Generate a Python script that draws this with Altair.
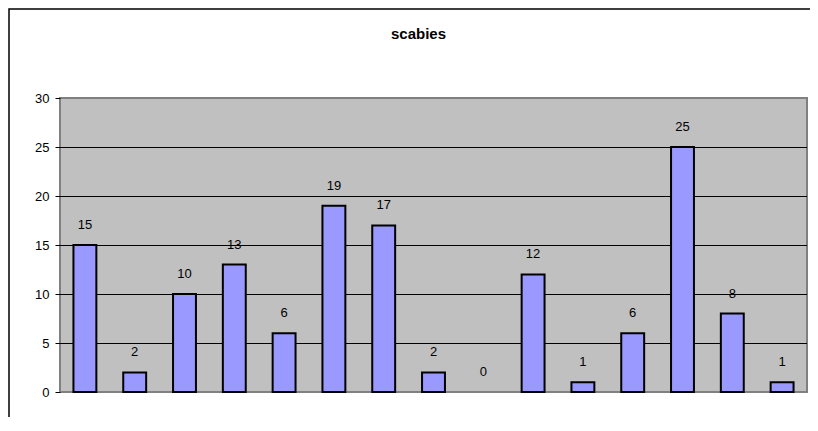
import altair as alt
import pandas as pd

categories = [str(i) for i in range(1, 16)]
values = [15, 2, 10, 13, 6, 19, 17, 2, 0, 12, 1, 6, 25, 8, 1]
y_ticks = [0, 5, 10, 15, 20, 25, 30]
grid_values = [5, 10, 15, 20, 25]

df = pd.DataFrame({"cat": categories, "value": values})
grid_df = pd.DataFrame({"g": grid_values})

W, H = 747, 294
FONT = "Liberation Sans"

x_scale = alt.Scale(domain=categories, paddingInner=0.54, paddingOuter=0.27)
y_scale = alt.Scale(domain=[0, 30], nice=False)
y_axis = alt.Axis(values=y_ticks, title=None, grid=False, domain=False,
                  tickColor="black", tickSize=5, labelPadding=6,
                  labelFontSize=13, labelFont=FONT, labelColor="black")

grid = alt.Chart(grid_df).mark_rule(color="black", strokeWidth=1, yOffset=0.5).encode(
    y=alt.Y("g:Q", scale=y_scale, axis=y_axis),
)

bars = alt.Chart(df).transform_filter("datum.value > 0").mark_bar(
    fill="#9999FF", stroke="black", strokeWidth=2
).encode(
    x=alt.X("cat:N", sort=categories, axis=None, scale=x_scale),
    y=alt.Y("value:Q", scale=y_scale, axis=y_axis),
)

labels = alt.Chart(df).mark_text(
    dy=-20, baseline="middle", align="center", fontSize=13, font=FONT, color="black"
).encode(
    x=alt.X("cat:N", sort=categories, axis=None, scale=x_scale),
    y=alt.Y("value:Q", scale=y_scale, axis=y_axis),
    text=alt.Text("value:Q"),
)

frame = alt.Chart(pd.DataFrame({"a": [0]})).mark_rect(
    fill=None, stroke="black", strokeWidth=1.5
).encode(
    x=alt.value(-51),
    x2=alt.value(W + 40),
    y=alt.value(-89),
    y2=alt.value(H + 80),
)

chart = alt.layer(grid, bars, labels, frame).properties(
    width=W,
    height=H,
    view=alt.ViewBackground(fill="#C0C0C0", stroke="#808080", strokeWidth=2),
    title=alt.TitleParams("scabies", fontSize=15, fontWeight="bold", font=FONT,
                          color="black", anchor="middle", dx=-15,
                          baseline="alphabetic", offset=-46),
    autosize=alt.AutoSizeParams(type="none"),
    padding={"left": 52, "top": 90, "right": 3, "bottom": 25},
).configure(background="white")

chart.save("out.html", embed_options={"renderer": "svg", "actions": False})
